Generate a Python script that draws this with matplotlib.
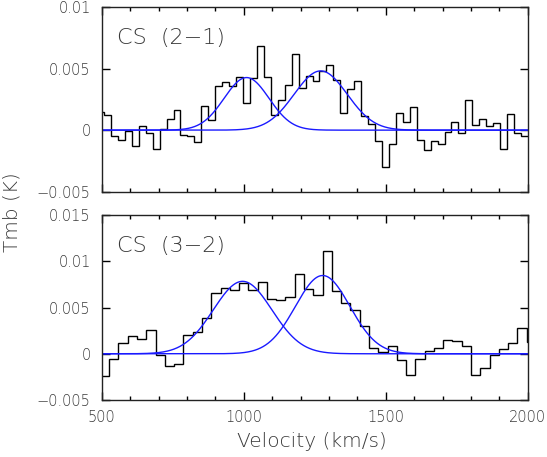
import numpy as np
import matplotlib
matplotlib.use("Agg")
import matplotlib.pyplot as plt
from matplotlib.ticker import MultipleLocator, FuncFormatter


# ==========================
# 数据
# ==========================

# CS (2-1): 通道网格 + 每个通道的 Tmb
cs21_edge0 = 483.7      # 第一个通道左边缘 (km/s)
cs21_dv = 24.47         # 通道宽度 (km/s)
cs21_tmb = [
    0.0015, 0.00125, -0.0005, -0.0008, -0.0001, -0.00127, 0.00035, -0.00024,
    -0.0015, 0.00008, 0.0009, 0.00165, -0.0004, -0.00046, -0.001, 0.002,
    0.00084, 0.00355, 0.00387, 0.0036, 0.0043, 0.0022, 0.0042, 0.0068,
    0.0043, 0.0012, 0.00246, 0.00368, 0.0062, 0.00345, 0.0044, 0.004,
    0.0048, 0.0053, 0.0041, 0.00138, 0.00337, 0.004, 0.00116, 0.00047,
    -0.00087, -0.003, -0.0011, 0.00137, 0.00065, 0.0019, -0.00078, -0.00164,
    -0.0009, -0.00113, -0.00016, 0.0007, -0.0002, 0.00245, 0.00038, 0.0009,
    0.0003, 0.00056, -0.0015, 0.0013, -0.0002, -0.00046,
]
# 高斯拟合: (中心, 峰值, FWHM)
cs21_fits = [(1010.0, 0.00427, 186.0), (1271.0, 0.00481, 220.0)]

# CS (3-2)
cs32_edge0 = 493.6
cs32_dv = 32.67
cs32_tmb = [
    -0.00235, -0.0006, 0.0012, 0.0019, 0.00163, 0.0026, -0.00018, -0.00134,
    -0.00106, 0.002, 0.00235, 0.00385, 0.00658, 0.00715, 0.00692, 0.0077,
    0.0069, 0.00772, 0.00592, 0.00585, 0.00612, 0.00862, 0.00695, 0.0064,
    0.0111, 0.0068, 0.00547, 0.00468, 0.00303, 0.00065, 0.00018, 0.00085,
    -0.0007, -0.00234, -0.00054, 0.00025, 0.00065, 0.00151, 0.00137, 0.00083,
    -0.00232, -0.00151, -0.00016, 0.0005, 0.00115, 0.00281, 0.00126,
]
cs32_fits = [(996.0, 0.00783, 243.0), (1278.0, 0.00846, 226.0)]

panels = [
    ("CS  (2\u22121)", cs21_edge0, cs21_dv, cs21_tmb, cs21_fits, (-0.005, 0.01)),
    ("CS  (3\u22122)", cs32_edge0, cs32_dv, cs32_tmb, cs32_fits, (-0.005, 0.015)),
]

TEXT_COLOR = "#3a3a3a"
plt.rcParams["font.weight"] = "light"


def gauss(v, v0, peak, fwhm):
    sigma = fwhm / (2.0 * np.sqrt(2.0 * np.log(2.0)))
    return peak * np.exp(-0.5 * ((v - v0) / sigma) ** 2)


def fmt_y(val, pos):
    if abs(val) < 1e-12:
        return "0"
    return ("%g" % val).replace("-", "\u2212")


fig = plt.figure(figsize=(5.47, 4.57), dpi=100)
ax_top = fig.add_axes([0.186, 0.5805, 0.7787, 0.4042])
ax_bot = fig.add_axes([0.186, 0.1247, 0.7787, 0.4048])

v_fine = np.linspace(500, 2000, 1500)

for ax, (name, e0, dv, tmb, fits, ylim) in zip([ax_top, ax_bot], panels):
    tmb = np.asarray(tmb)
    edges = e0 + dv * np.arange(len(tmb) + 1)
    ax.stairs(tmb, edges, baseline=None, color="black", linewidth=1.0)

    for v0, peak, fwhm in fits:
        ax.plot(v_fine, gauss(v_fine, v0, peak, fwhm), color="#1a1aff", linewidth=1.0)

    ax.set_xlim(500, 2000)
    ax.set_ylim(*ylim)
    ax.xaxis.set_major_locator(MultipleLocator(500))
    ax.xaxis.set_minor_locator(MultipleLocator(100))
    ax.yaxis.set_major_locator(MultipleLocator(0.005))
    ax.yaxis.set_major_formatter(FuncFormatter(fmt_y))
    ax.tick_params(which="both", direction="in", top=True, right=True,
                   colors="black", labelcolor=TEXT_COLOR, labelsize=10.5)
    ax.tick_params(which="major", length=6, width=1.0)
    ax.tick_params(which="minor", length=3, width=1.0)
    ax.tick_params(axis="y", pad=8)
    ax.tick_params(axis="x", pad=7)
    for sp in ax.spines.values():
        sp.set_linewidth(1.0)
        sp.set_color("#222222")

    ax.text(0.035, 0.83, name, transform=ax.transAxes, fontsize=16,
            color=TEXT_COLOR, ha="left", va="center")

ax_top.tick_params(axis="x", labelbottom=False)

fig.text(0.571, 0.033, "Velocity (km/s)", ha="center", va="center",
         fontsize=14.5, color=TEXT_COLOR)
fig.text(0.022, 0.536, "Tmb (K)", ha="center", va="center", rotation=90,
         fontsize=14.5, color=TEXT_COLOR)

fig.savefig("out.png", dpi=100)
